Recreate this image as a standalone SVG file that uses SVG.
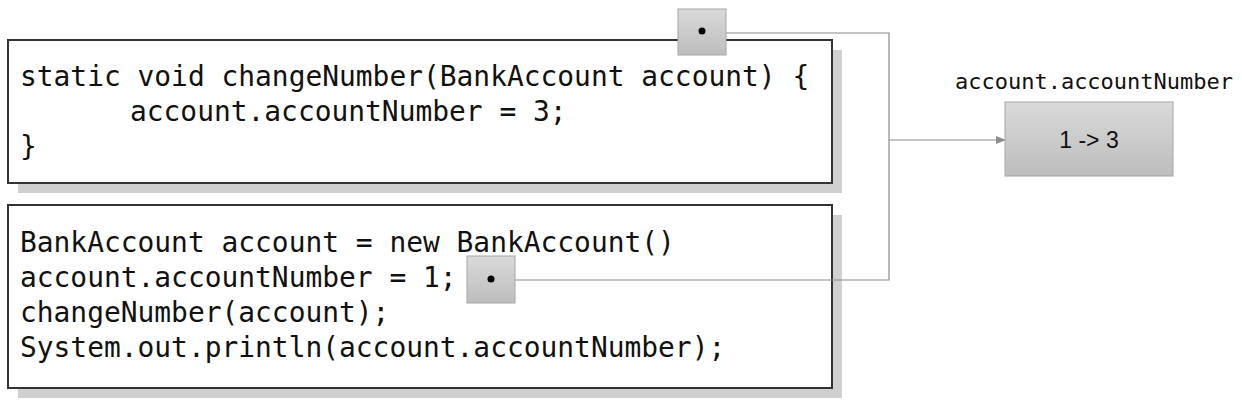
<svg xmlns="http://www.w3.org/2000/svg" width="1242" height="405" viewBox="0 0 1242 405">
<style>
.code{font-family:"DejaVu Sans Mono","Liberation Mono",monospace;font-size:27.9px;fill:#111}
.shadow{fill:#d0d0d0}
.box{fill:#fff;stroke:#333;stroke-width:2}
.ptr{fill:url(#g);stroke:#a6a6a6;stroke-width:1}
.conn{fill:none;stroke:#8c8c8c;stroke-width:1.2}
</style>
<defs>
<linearGradient id="g" x1="0" y1="0" x2="0" y2="1">
<stop offset="0" stop-color="#dadada"/>
<stop offset="1" stop-color="#bdbdbd"/>
</linearGradient>
<marker id="arr" markerWidth="10" markerHeight="8" refX="9" refY="4" orient="auto" markerUnits="userSpaceOnUse">
<path d="M0,0 L10,4 L0,8 Z" fill="#8c8c8c"/>
</marker>
</defs>
<g id="method">
<rect class="shadow" x="18" y="50" width="824" height="143"/>
<rect class="box" x="8" y="40" width="824" height="143"/>
<text class="code" x="20" y="86">static void changeNumber(BankAccount account) {</text>
<text class="code" x="130" y="121">account.accountNumber = 3;</text>
<text class="code" x="20" y="156">}</text>
</g>
<g id="main">
<rect class="shadow" x="18" y="215" width="824" height="183"/>
<rect class="box" x="8" y="205" width="824" height="183"/>
<text class="code" x="20" y="252">BankAccount account = new BankAccount()</text>
<text class="code" x="20" y="287">account.accountNumber = 1;</text>
<text class="code" x="20" y="322">changeNumber(account);</text>
<text class="code" x="20" y="357">System.out.println(account.accountNumber);</text>
</g>
<g id="connectors">
<polyline class="conn" points="726,33 889,33 889,280 515,280"/>
<line class="conn" x1="889" y1="140" x2="1005" y2="140" marker-end="url(#arr)"/>
</g>
<g id="ptrTop">
<rect class="ptr" x="678" y="9" width="48" height="46"/>
<circle cx="702" cy="31" r="3.5" fill="#000"/>
</g>
<g id="ptrBottom">
<rect class="ptr" x="467" y="256" width="48" height="47"/>
<circle cx="491" cy="279" r="3.5" fill="#000"/>
</g>
<g id="value">
<text x="1094" y="89" text-anchor="middle" style="font-family:'DejaVu Sans Mono','Liberation Mono',monospace;font-size:22px;fill:#111">account.accountNumber</text>
<rect class="ptr" x="1005" y="102" width="168" height="74"/>
<text x="1089" y="148" text-anchor="middle" style="font-family:'Liberation Sans',Arial,sans-serif;font-size:23px;fill:#111">1 -&gt; 3</text>
</g>
</svg>
